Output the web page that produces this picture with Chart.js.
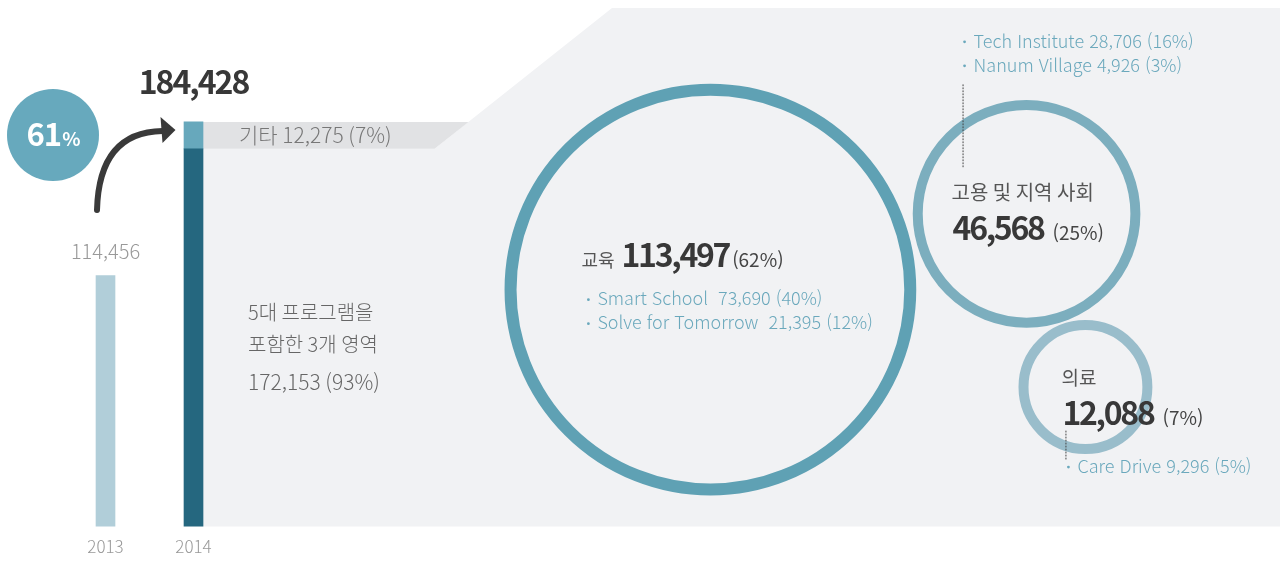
<!DOCTYPE html>
<html lang="ko">
<head>
<meta charset="utf-8">
<title>사회공헌 투자 2013-2014</title>
<script src="https://cdn.jsdelivr.net/npm/chart.js@4.4.1/dist/chart.umd.min.js"></script>
<style>
  html, body { margin: 0; padding: 0; background: #fff; }
  #wrap { position: relative; width: 1280px; height: 561px; }
</style>
</head>
<body>
<div id="wrap"><canvas id="spendChart"></canvas></div>
<script>
'use strict'

// yearly totals
const years = [2013, 2014];
const yearTotals = [114456, 184428];

// 2014 split: the three areas plus "other"
const otherLabel = '기타';
const otherValue = 12275;
const groupLines = ['5대 프로그램을', '포함한 3개 영역'];
const areaLabels = ['교육', '고용 및 지역 사회', '의료'];
const areaValues = [113497, 46568, 12088];

// programmes inside each area
const programNames = [
  ['Smart School', 'Solve for Tomorrow'],
  ['Tech Institute', 'Nanum Village'],
  ['Care Drive']
];
const programValues = [
  [73690, 21395],
  [28706, 4926],
  [9296]
];

// ring placement on a 0-100 layout grid, and ring look
const ringSpots = [{x: 55.5, y: 45.0}, {x: 80.2, y: 59.4}, {x: 84.8, y: 26.5}];
const ringColors = ['#5fa1b4', '#7caebe', '#99bdcb'];
const ringWidths = [12, 10, 10];

const BLUE = '#6aa8bc';
const DARK = '#383838';
const GREY = '#777';

const total2014 = yearTotals[1];
const coreValue = areaValues.reduce((a, b) => a + b, 0);
const fmt = v => v.toLocaleString('en-US');
const pct = v => Math.round(v / total2014 * 100) + '%';
const font = (size, weight) => `${weight} ${size}px "Noto Sans CJK KR", "Noto Sans", sans-serif`;

// ring radius grows linearly with the amount
const ringRadius = v => 45.5 + v * 0.00136;

function drawRuns(ctx, x, y, runs) {
  ctx.textBaseline = 'alphabetic';
  ctx.textAlign = 'left';
  for (const r of runs) {
    ctx.font = r.font;
    ctx.fillStyle = r.color;
    ctx.letterSpacing = r.spacing || '0px';
    ctx.fillText(r.text, x, y);
    x += ctx.measureText(r.text).width + (r.gap || 0);
  }
  ctx.letterSpacing = '0px';
}

function drawBullets(ctx, x, y, lines) {
  ctx.font = font(18, 300);
  ctx.fillStyle = BLUE;
  ctx.textBaseline = 'middle';
  ctx.textAlign = 'left';
  lines.forEach((t, i) => {
    const yy = y + i * 24;
    ctx.beginPath();
    ctx.arc(x, yy + 1, 1.4, 0, Math.PI * 2);
    ctx.fill();
    ctx.fillText(t, x + 9, yy);
  });
}

function dotted(ctx, x, y0, y1) {
  ctx.save();
  ctx.strokeStyle = '#444';
  ctx.lineWidth = 1;
  ctx.setLineDash([1, 2]);
  ctx.beginPath();
  ctx.moveTo(x, y0);
  ctx.lineTo(x, y1);
  ctx.stroke();
  ctx.restore();
}

function programLines(i) {
  const gap = i === 0 ? '  ' : ' ';
  return programNames[i].map((n, j) => n + gap + fmt(programValues[i][j]) + ' (' + pct(programValues[i][j]) + ')');
}

// grey panel behind the breakdown, with the "other" strip next to the light bar part
const panelPlugin = {
  id: 'panel',
  beforeDatasetsDraw(chart) {
    const {ctx, chartArea} = chart;
    const y = chart.scales.y;
    const bar = chart.getDatasetMeta(1).data[0];
    const left = bar.x + bar.width / 2;
    const topY = y.getPixelForValue(total2014);
    const midY = y.getPixelForValue(coreValue);
    // slanted edge of the panel
    const slant = yy => 612 - (yy - 8) * (204 / 162);
    ctx.save();
    ctx.fillStyle = '#f1f2f4';
    ctx.beginPath();
    ctx.moveTo(left, midY);
    ctx.lineTo(slant(midY), midY);
    ctx.lineTo(slant(8), 8);
    ctx.lineTo(chartArea.right, 8);
    ctx.lineTo(chartArea.right, chartArea.bottom);
    ctx.lineTo(left, chartArea.bottom);
    ctx.closePath();
    ctx.fill();

    ctx.fillStyle = '#e1e2e4';
    ctx.beginPath();
    ctx.moveTo(left, topY);
    ctx.lineTo(slant(topY), topY);
    ctx.lineTo(slant(midY), midY);
    ctx.lineTo(left, midY);
    ctx.closePath();
    ctx.fill();
    ctx.restore();
  }
};

const notesPlugin = {
  id: 'notes',
  afterDatasetsDraw(chart) {
    const {ctx} = chart;
    const y = chart.scales.y;
    const bar13 = chart.getDatasetMeta(0).data[0];
    const bar14 = chart.getDatasetMeta(1).data[0];
    const top14 = y.getPixelForValue(total2014);
    const mid14 = y.getPixelForValue(coreValue);
    ctx.save();

    // growth badge
    const growth = Math.round((yearTotals[1] / yearTotals[0] - 1) * 100);
    ctx.fillStyle = '#67a9bd';
    ctx.beginPath();
    ctx.arc(53, 135, 46, 0, Math.PI * 2);
    ctx.fill();
    ctx.fillStyle = '#fff';
    ctx.textBaseline = 'alphabetic';
    ctx.letterSpacing = '-1px';
    ctx.font = font(31, 700);
    const gW = ctx.measureText(String(growth)).width;
    ctx.font = font(19, 700);
    const pW = ctx.measureText('%').width;
    let gx = 53 - (gW + pW + 1) / 2;
    ctx.font = font(31, 700);
    ctx.fillText(String(growth), gx, 146);
    ctx.font = font(19, 700);
    ctx.fillText('%', gx + gW + 1, 146);
    ctx.letterSpacing = '0px';

    // arrow from 2013 to 2014
    const sx = bar13.x - 8.5;
    const tipX = bar14.x - 18, tipY = top14 + 8;
    ctx.strokeStyle = '#3a3a3a';
    ctx.fillStyle = '#3a3a3a';
    ctx.lineWidth = 6;
    ctx.lineCap = 'round';
    ctx.beginPath();
    ctx.moveTo(sx, 210);
    ctx.quadraticCurveTo(sx + 2, tipY + 2, tipX - 13, tipY + 1);
    ctx.stroke();
    ctx.beginPath();
    ctx.moveTo(tipX, tipY);
    ctx.lineTo(tipX - 15, tipY - 13);
    ctx.lineTo(tipX - 13, tipY + 13);
    ctx.closePath();
    ctx.fill();

    // bar value labels
    ctx.textAlign = 'center';
    ctx.textBaseline = 'alphabetic';
    ctx.font = font(32, 700);
    ctx.fillStyle = DARK;
    ctx.letterSpacing = '-2px';
    ctx.fillText(fmt(yearTotals[1]), bar14.x, top14 - 28);
    ctx.letterSpacing = '0px';
    ctx.font = font(20, 300);
    ctx.fillStyle = '#999';
    ctx.fillText(fmt(yearTotals[0]), bar13.x, bar13.y - 16);

    // "other" strip and the group caption
    const textX = bar14.x + bar14.width / 2;
    ctx.textAlign = 'left';
    ctx.textBaseline = 'middle';
    ctx.font = font(21, 300);
    ctx.fillStyle = GREY;
    ctx.fillText(otherLabel + ' ' + fmt(otherValue) + ' (' + pct(otherValue) + ')', textX + 36, (top14 + mid14) / 2);
    ctx.font = font(20, 300);
    ctx.fillStyle = '#666';
    ctx.textBaseline = 'alphabetic';
    ctx.fillText(groupLines[0], textX + 45, 320);
    ctx.fillText(groupLines[1], textX + 45, 352);
    ctx.font = font(21, 300);
    ctx.fillText(fmt(coreValue) + ' (' + pct(coreValue) + ')', textX + 45, 390);

    // area rings
    const rings = chart.getDatasetMeta(3).data;
    const head = (i, x, y, gap) => drawRuns(ctx, x, y, [
      {text: fmt(areaValues[i]), font: font(32, 700), color: DARK, gap: gap, spacing: '-2.3px'},
      {text: '(' + pct(areaValues[i]) + ')', font: font(19, 400), color: '#444'}
    ]);

    let c = rings[0];
    ctx.font = font(18, 400);
    ctx.fillStyle = '#555';
    ctx.textBaseline = 'alphabetic';
    ctx.fillText(areaLabels[0], c.x - 129, c.y - 23);
    head(0, c.x - 129 + ctx.measureText(areaLabels[0]).width + 7, c.y - 23, 3);
    drawBullets(ctx, c.x - 122, c.y + 9, programLines(0));

    c = rings[1];
    ctx.font = font(20, 400);
    ctx.fillStyle = '#555';
    ctx.textBaseline = 'alphabetic';
    ctx.fillText(areaLabels[1], c.x - 75, c.y - 14);
    head(1, c.x - 74, c.y + 26, 9);
    drawBullets(ctx, c.x - 62, c.y - 173, programLines(1));
    dotted(ctx, c.x - 63.5, c.y - 129, c.y - 46);

    c = rings[2];
    ctx.font = font(19, 400);
    ctx.fillStyle = '#555';
    ctx.textBaseline = 'alphabetic';
    ctx.fillText(areaLabels[2], c.x - 24, c.y - 2);
    head(2, c.x - 23, c.y + 38, 9);
    dotted(ctx, c.x - 19.5, c.y + 44, c.y + 74);
    drawBullets(ctx, c.x - 17, c.y + 79, programLines(2));

    ctx.restore();
  }
};

const data = {
  datasets: [
    {
      label: '2013',
      data: [{x: years[0], y: yearTotals[0]}],
      backgroundColor: '#b1ced9',
      xAxisID: 'x', yAxisID: 'y'
    },
    {
      label: groupLines.join(' '),
      data: [{x: years[1], y: coreValue}],
      backgroundColor: '#25677f',
      xAxisID: 'x', yAxisID: 'y'
    },
    {
      label: otherLabel,
      data: [{x: years[1], y: yearTotals[1] - coreValue}],
      backgroundColor: '#67a8bc',
      xAxisID: 'x', yAxisID: 'y'
    },
    {
      type: 'bubble',
      label: '영역',
      data: areaValues.map((v, i) => ({x: ringSpots[i].x, y: ringSpots[i].y, r: ringRadius(v)})),
      backgroundColor: 'rgba(0,0,0,0)',
      borderColor: ringColors,
      borderWidth: ringWidths,
      xAxisID: 'xb', yAxisID: 'yb',
      clip: false
    }
  ]
};

const options = {
  responsive: true,
  maintainAspectRatio: false,
  animation: false,
  events: [],
  layout: { padding: {top: 0, left: 0, right: 0, bottom: -6}, autoPadding: false },
  datasets: {
    // one bar per year, centred on its tick; the 2014 parts stack on y
    bar: { barThickness: 19, borderWidth: 0, grouped: false }
  },
  scales: {
    x: {
      type: 'linear',
      min: 2011.801,
      max: 2026.347,
      offset: false,
      grid: { display: false, drawTicks: false },
      border: { display: false },
      afterBuildTicks: s => { s.ticks = years.map(v => ({value: v})); },
      ticks: {
        autoSkip: false,
        maxRotation: 0,
        padding: 10,
        color: '#999',
        font: { family: '"Noto Sans CJK KR", sans-serif', size: 17, weight: 300 },
        callback: v => String(v)
      }
    },
    y: {
      type: 'linear',
      display: false,
      stacked: true,
      min: 0,
      max: 240000
    },
    xb: { type: 'linear', display: false, offset: false, min: 0, max: 100 },
    yb: { type: 'linear', display: false, offset: false, min: 0, max: 100 }
  },
  plugins: {
    legend: { display: false },
    tooltip: { enabled: false },
    title: { display: false }
  }
};

const ctx = document.getElementById('spendChart').getContext('2d');
const spendChart = new Chart(ctx, {
  type: 'bar',
  data: data,
  options: options,
  plugins: [panelPlugin, notesPlugin]
});
</script>
</body>
</html>
